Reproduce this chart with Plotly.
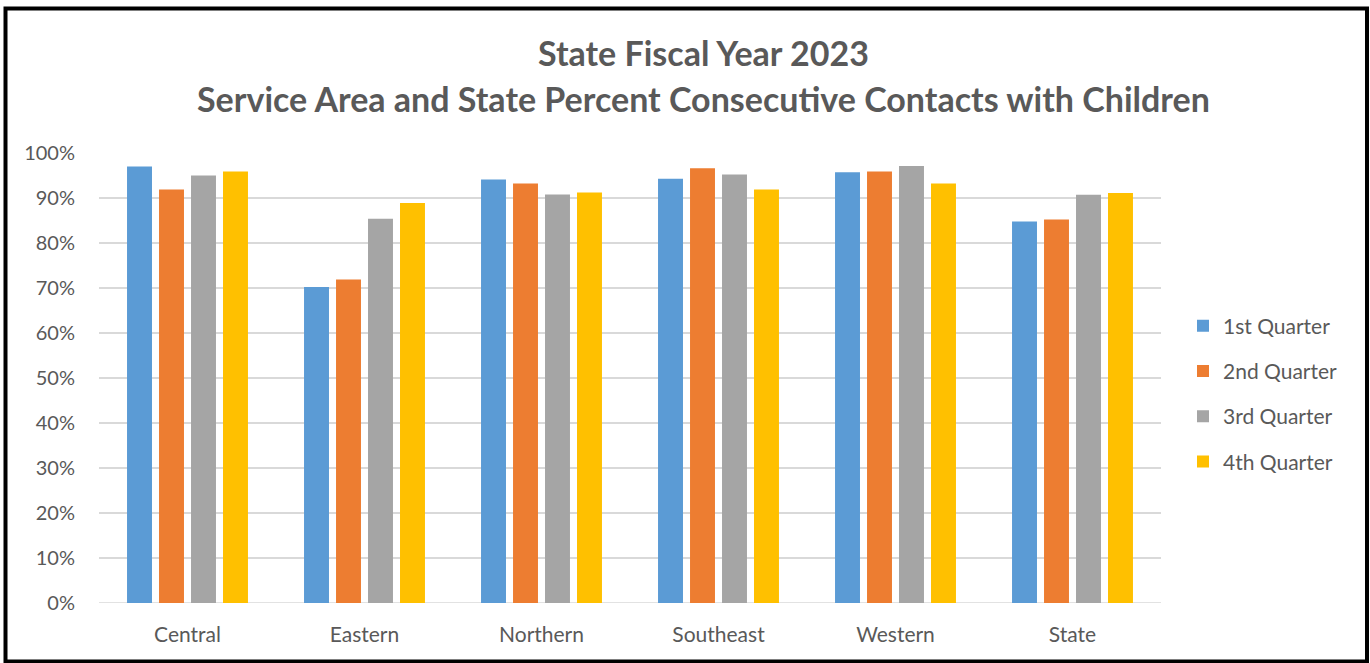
import plotly.graph_objects as go

categories = ["Central", "Eastern", "Northern", "Southeast", "Western", "State"]
q1 = [97.0, 70.2, 94.1, 94.3, 95.7, 84.8]
q2 = [91.9, 71.9, 93.2, 96.6, 95.9, 85.2]
q3 = [95.0, 85.4, 90.8, 95.2, 97.1, 90.7]
q4 = [95.9, 88.9, 91.2, 91.9, 93.2, 91.1]
series_names = ["1st Quarter", "2nd Quarter", "3rd Quarter", "4th Quarter"]
series_values = [q1, q2, q3, q4]
colors = ["#5B9BD5", "#ED7D31", "#A5A5A5", "#FFC000"]
tick_vals = [0, 10, 20, 30, 40, 50, 60, 70, 80, 90, 100]
tick_text = [f"{v}%" for v in tick_vals]
title_line1 = "State Fiscal Year 2023"
title_line2 = "Service Area and State Percent Consecutive Contacts with Children"

FONT = "Lato"
TXT = "#595959"

fig = go.Figure()
for i, (name, vals, col) in enumerate(zip(series_names, series_values, colors)):
    fig.add_trace(go.Bar(
        x=categories, y=vals, name=name, marker_color=col,
        marker_line_width=0, legendgroup=f"g{i}",
    ))

W, H = 1370, 663
L, R, T, B = 99, 1161, 153, 603
pw, ph = R - L, B - T

def px_x(x):
    return (x - L) / pw

def px_y(y):
    return (B - y) / ph

fig.update_layout(
    width=W, height=H,
    margin=dict(l=L, r=W - R, t=T, b=H - B, pad=0),
    paper_bgcolor="white", plot_bgcolor="white",
    barmode="group", bargap=0.277, bargroupgap=0.22,
    font=dict(family=FONT, color=TXT, size=21),
    showlegend=True,
    legend=dict(
        x=px_x(1183), y=px_y(394), xanchor="left", yanchor="middle",
        font=dict(size=21, color=TXT, family=FONT),
        tracegroupgap=15, itemwidth=30, bgcolor="rgba(0,0,0,0)",
    ),
    xaxis=dict(
        showgrid=False, showline=False, zeroline=False, ticks="",
        tickfont=dict(size=21, color=TXT, family=FONT),
        ticklabelstandoff=17,
    ),
    yaxis=dict(
        range=[0, 100], tickvals=tick_vals, ticktext=tick_text,
        showgrid=True, gridcolor="#D9D9D9", gridwidth=1.5,
        zeroline=False, showline=False, ticks="",
        tickfont=dict(size=20, color=TXT, family=FONT),
        ticklabelstandoff=23,
    ),
    annotations=[
        dict(text=f"<b>{title_line1}</b>", xref="paper", yref="paper",
             x=px_x(703), y=px_y(52), xanchor="center", yanchor="middle",
             showarrow=False, font=dict(size=34, color=TXT, family=FONT)),
        dict(text=f"<b>{title_line2}</b>", xref="paper", yref="paper",
             x=px_x(703), y=px_y(98), xanchor="center", yanchor="middle",
             showarrow=False, font=dict(size=34, color=TXT, family=FONT)),
    ],
    shapes=[
        dict(type="rect", xref="paper", yref="paper",
             x0=px_x(5.5), x1=px_x(1367), y0=px_y(661.5), y1=px_y(8.5),
             line=dict(color="black", width=4), fillcolor="rgba(0,0,0,0)", layer="below"),
        dict(type="line", xref="paper", yref="y",
             x0=0, x1=1, y0=0, y1=0, line=dict(color="#D9D9D9", width=1.5), layer="below"),
    ],
)

fig.write_html(
    "out.html",
    config={"displayModeBar": False},
    post_script="document.body.style.margin='0';document.body.style.overflow='hidden';",
)
